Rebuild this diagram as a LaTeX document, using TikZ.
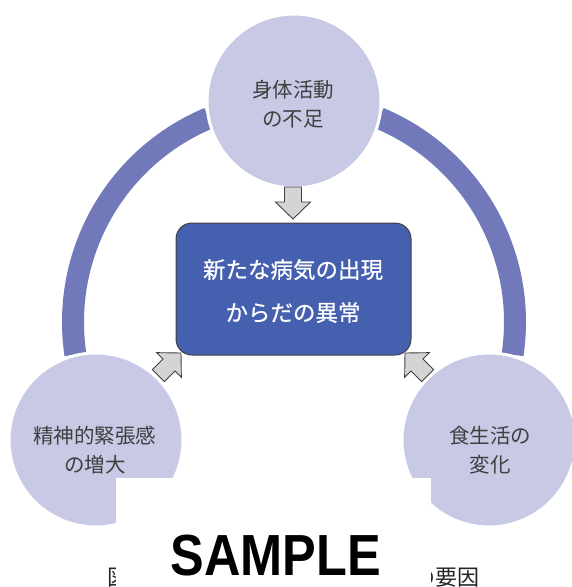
\documentclass[tikz,border=0pt]{standalone}
\usepackage{fontspec}
\newfontfamily\jp{Noto Sans CJK JP}
\newfontfamily\jpbold{Noto Sans CJK JP}[FakeBold=0.6]
\newfontfamily\stampfont{Liberation Sans}
\definecolor{ringc}{HTML}{7279BA}
\definecolor{circc}{HTML}{C8C9E5}
\definecolor{boxc}{HTML}{4560AE}
\definecolor{arrc}{HTML}{D4D4D4}
\definecolor{txtc}{HTML}{3F3F3F}
\tikzset{
  ringseg/.style={draw=ringc, line width=22pt},
  bubble/.style={circle, fill=circc, draw=white, line width=3pt, minimum size=174pt, inner sep=0pt},
  bubtext/.style={font=\jp\fontsize{20.5}{29}\selectfont, text=txtc, align=center, inner sep=0pt},
  centerbox/.style={rectangle, rounded corners=16pt, fill=boxc, draw=black!75, line width=1pt, minimum width=235pt, minimum height=132pt, inner sep=0pt},
  boxtext/.style={font=\jpbold\fontsize{22.5}{43}\selectfont, text=white, align=center, inner sep=0pt},
  blockarr/.style={fill=arrc, draw=black!75, line width=0.9pt, line join=miter},
}
\begin{document}
\begin{tikzpicture}[x=1pt,y=1pt]
\useasboundingbox (0,0) rectangle (571,-587);
\coordinate (C) at (294,-322);
% ring
\draw[ringseg] ([shift={(112.7:221)}]C) arc[start angle=112.7, end angle=188.5, radius=221];
\draw[ringseg] ([shift={(67.3:221)}]C) arc[start angle=67.3, end angle=-8.5, radius=221];
\draw[ringseg] ([shift={(233.5:221)}]C) arc[start angle=233.5, end angle=298, radius=221];
\fill[ringc] (388.4,-499.4) -- (407.2,-534.8) -- (436,-502) -- cycle;
% circles
\node[bubble] (top) at (294,-101) {};
\node[bubble] (left) at (96,-440) {};
\node[bubble] (right) at (489,-440) {};
\node[bubtext] (toptext) at (293,-104) {身体活動\\の不足};
\node[bubtext] (lefttext) at (95,-450) {精神的緊張感\\の増大};
\node[bubtext] (righttext) at (490,-450) {食生活の\\変化};
% center box
\node[centerbox] (box) at (293.5,-289) {};
\node[boxtext] (boxtext) at (293,-291) {新たな病気の出現\\からだの異常};
% block arrows
\foreach \tx/\ty/\rot in {293/-219/-90, 181/-353/45, 405/-353/135}{
  \begin{scope}[shift={(\tx,\ty)}, rotate=\rot]
    \draw[blockarr] (-32,-8.5) -- (-17,-8.5) -- (-17,-17.5) -- (0,0) -- (-17,17.5) -- (-17,8.5) -- (-32,8.5) -- cycle;
  \end{scope}
}
% caption (partly covered)
\node[font=\jp\fontsize{22}{22}\selectfont, text=black!85, anchor=west, inner sep=0pt] (cap1) at (107,-578) {図};
\node[font=\jp\fontsize{22}{22}\selectfont, text=black!85, anchor=east, inner sep=0pt] (cap2) at (480,-578) {の要因};
% white cover
\fill[white] (116,-478) rectangle (431,-587);
% stamp
\node[font=\stampfont\bfseries\fontsize{58}{58}\selectfont, xscale=0.87, inner sep=0pt] (stamp) at (276,-556) {SAMPLE};
\end{tikzpicture}
\end{document}
